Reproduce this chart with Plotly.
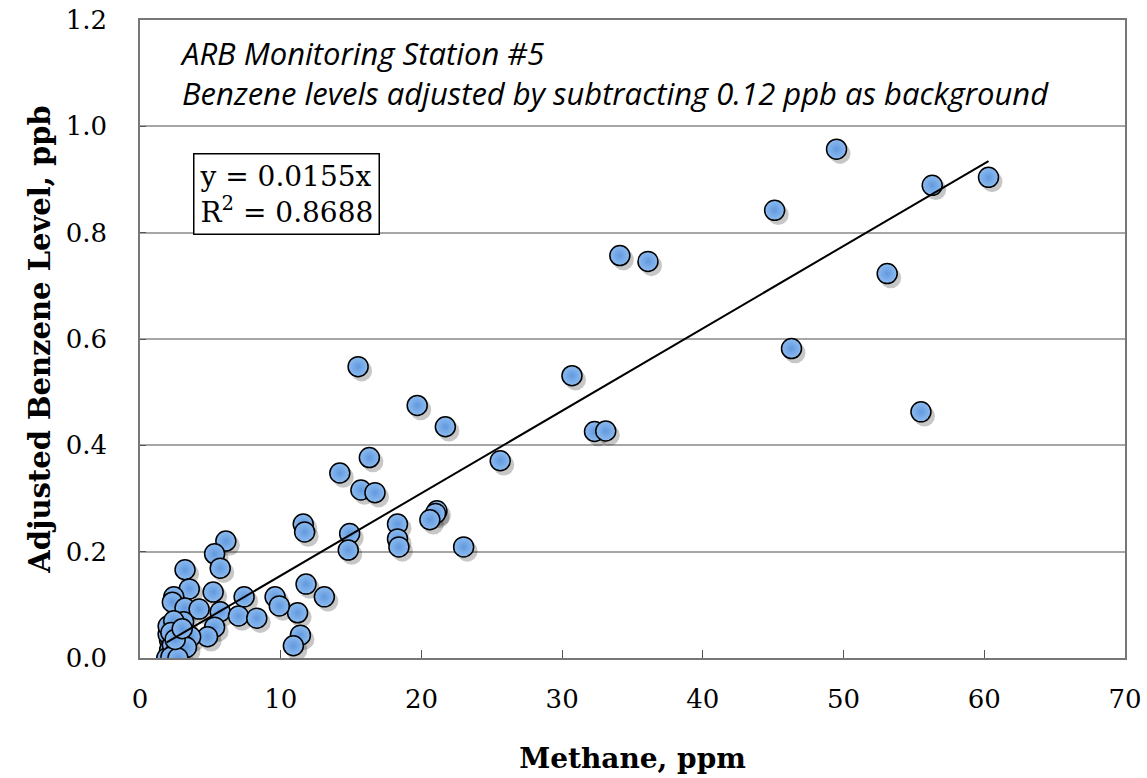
import plotly.graph_objects as go

# Data
methane = [49.5, 56.3, 60.3, 45.1, 34.1, 36.1, 53.1, 46.3, 55.5,
           30.7, 32.3, 33.1, 15.5, 19.7, 21.7, 25.6, 16.3, 14.2,
           15.7, 16.7, 21.1, 21.0, 20.6, 11.6, 11.7, 14.9, 14.8,
           18.3, 18.3, 18.4, 23.0, 11.8, 13.1, 11.2, 11.4, 10.9,
           6.1, 5.3, 5.7, 3.2, 3.5, 2.4, 2.3, 5.2, 7.4, 9.6, 9.9,
           3.2, 4.2, 5.7, 7.0, 8.3, 3.1, 5.3, 4.8, 2.1, 2.1, 3.6,
           2.1, 2.8, 1.9, 2.0, 2.3, 2.5, 2.2, 2.6, 2.0, 2.4, 2.9,
           3.3, 2.7, 2.2, 2.5, 3.0]
benzene = [0.957, 0.889, 0.904, 0.842, 0.757, 0.746, 0.723, 0.582, 0.463,
           0.531, 0.426, 0.427, 0.548, 0.475, 0.435, 0.371, 0.377, 0.348,
           0.316, 0.311, 0.277, 0.272, 0.260, 0.252, 0.237, 0.234, 0.203,
           0.252, 0.224, 0.209, 0.209, 0.139, 0.115, 0.085, 0.043, 0.023,
           0.220, 0.196, 0.169, 0.166, 0.130, 0.115, 0.105, 0.124, 0.115, 0.115, 0.098,
           0.094, 0.092, 0.087, 0.079, 0.075, 0.068, 0.058, 0.040, 0.058, 0.034, 0.040,
           0.015, 0.006, 0.000, 0.045, 0.025, 0.010, 0.002, 0.050, 0.060, 0.070, 0.030,
           0.020, 0.000, 0.048, 0.035, 0.055]

slope = 0.0155
r2 = 0.8688
x_ticks = [0, 10, 20, 30, 40, 50, 60, 70]
y_ticks = [0.0, 0.2, 0.4, 0.6, 0.8, 1.0, 1.2]

title_lines = ["ARB Monitoring Station #5",
               "Benzene levels adjusted by subtracting 0.12 ppb as background"]

serif = "DejaVu Serif"

fig = go.Figure()

# soft drop shadow under markers
fig.add_trace(go.Scatter(
    x=[v + 0.25 for v in methane], y=[v - 0.008 for v in benzene],
    mode="markers", hoverinfo="skip", showlegend=False,
    marker=dict(size=21, color="rgba(0,0,0,0.22)", line=dict(width=0))))

fig.add_trace(go.Scatter(
    x=methane, y=benzene, mode="markers", showlegend=False,
    marker=dict(size=20, color="#8CBBF0",
                gradient=dict(type="radial", color="#6299DE"),
                line=dict(color="black", width=1.5))))

xmin, xmax = min(methane), max(methane)
fig.add_trace(go.Scatter(
    x=[xmin, xmax], y=[slope * xmin, slope * xmax], mode="lines",
    showlegend=False, line=dict(color="black", width=2)))

fig.add_annotation(
    xref="paper", yref="paper", x=0.039, y=0.985, xanchor="left", yanchor="top",
    text="<br>".join(f"<i>{t}</i>" for t in title_lines), align="left",
    showarrow=False,
    font=dict(family="Open Sans", size=31, color="black"))

fig.add_annotation(
    xref="paper", yref="paper", x=0.054, y=0.791, xanchor="left", yanchor="top",
    text=f"y = {slope}x<br>R<sup>2</sup> = {r2}", align="left", showarrow=False,
    font=dict(family=serif, size=28, color="black"),
    bordercolor="black", borderwidth=1.5, borderpad=5, bgcolor="white")

fig.update_layout(
    width=1147, height=778,
    margin=dict(l=140, r=22, t=20, b=120),
    plot_bgcolor="white", paper_bgcolor="white",
    xaxis=dict(range=[0, 70], tickvals=x_ticks, ticks="inside", ticklen=8,
               tickcolor="#555", showgrid=False, zeroline=False,
               showline=True, linecolor="#777", linewidth=1.5, mirror=True,
               automargin=False, ticklabelstandoff=17, ticklabeloverflow="allow",
               tickfont=dict(family=serif, size=26, color="black"),
               title=dict(text="<b>Methane, ppm</b>", standoff=35,
                          font=dict(family=serif, size=28, color="black"))),
    yaxis=dict(range=[0, 1.2], tickvals=y_ticks, tickformat=".1f",
               ticks="inside", ticklen=6, tickcolor="#555",
               showgrid=True, gridcolor="#a6a6a6", gridwidth=1.5,
               zeroline=False, showline=True, linecolor="#777", linewidth=1.5,
               mirror=True, automargin=False, ticklabelstandoff=26,
               ticklabeloverflow="allow",
               tickfont=dict(family=serif, size=26, color="black"),
               title=dict(text="<b>Adjusted Benzene Level, ppb</b>", standoff=7,
                          font=dict(family=serif, size=29, color="black"))),
)

fig.write_html("out.html", config={"displayModeBar": False},
               post_script="document.body.style.margin='0px';")
